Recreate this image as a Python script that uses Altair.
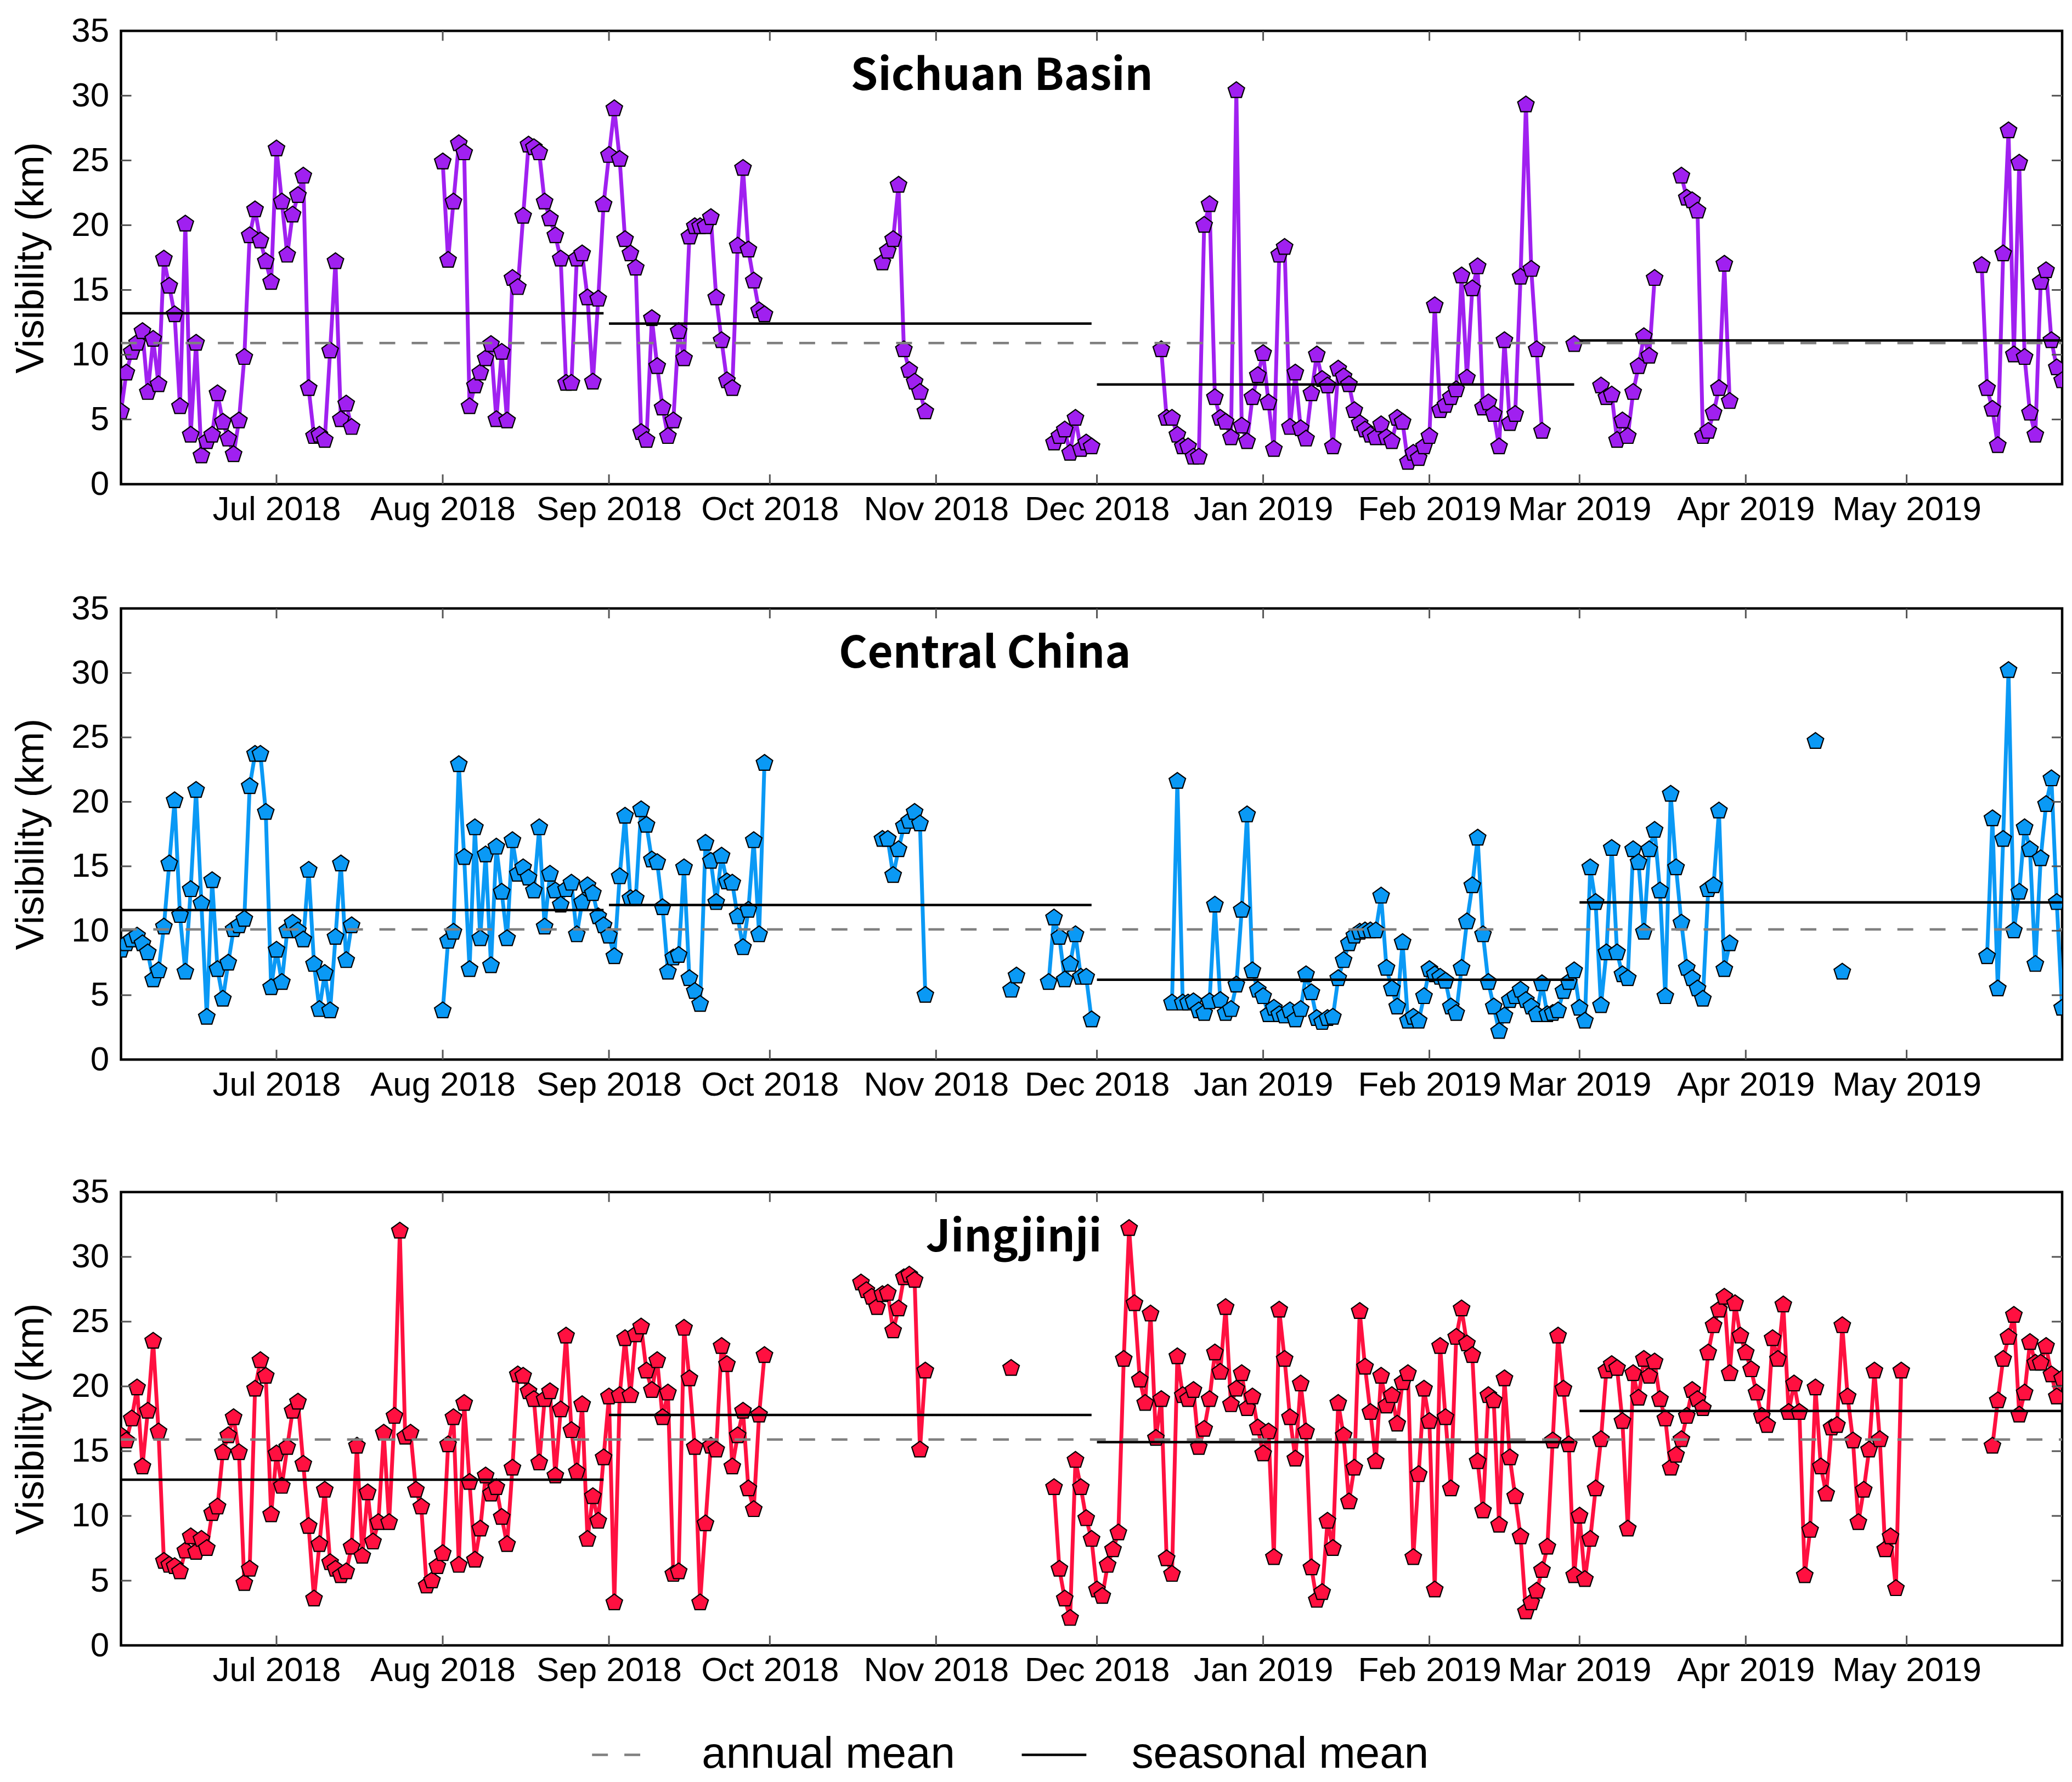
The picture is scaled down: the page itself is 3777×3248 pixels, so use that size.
import altair as alt
import pandas as pd

# ---------------- data ----------------
SICHUAN_RUNS = [
    ("2018-06-02", [5.6, 8.6, 10.2, 10.9, 11.8, 7.1, 11.2, 7.7, 17.4, 15.3, 13.1, 6.0, 20.1, 3.8, 10.9,
                    2.2, 3.3, 3.8, 7.0, 4.8, 3.5, 2.3, 4.9, 9.8, 19.2, 21.2, 18.8, 17.2, 15.6, 25.9,
                    21.8, 17.7, 20.8, 22.3, 23.8, 7.4, 3.7, 3.8, 3.4, 10.3, 17.2, 5.0, 6.2, 4.4]),
    ("2018-08-01", [24.9, 17.3, 21.8, 26.3, 25.6, 6.0, 7.6, 8.6, 9.7, 10.8, 5.0, 10.2, 4.9, 15.9, 15.2,
                    20.7, 26.2, 26.0, 25.6, 21.8, 20.5, 19.2, 17.4, 7.8, 7.8, 17.4, 17.8, 14.4, 7.9, 14.3,
                    21.6, 25.4, 29.0, 25.1, 18.9, 17.8, 16.7, 4.0, 3.4, 12.8, 9.1, 5.9, 3.7, 4.9, 11.8,
                    9.7, 19.1, 19.9, 19.9, 19.9, 20.6, 14.4, 11.1, 8.0, 7.4, 18.4, 24.4, 18.1, 15.7, 13.4,
                    13.1]),
    ("2018-10-22", [17.1, 18.0, 18.9, 23.1, 10.4, 8.8, 7.9, 7.1, 5.6]),
    ("2018-11-23", [3.2, 3.7, 4.2, 2.4, 5.1, 2.7, 3.2, 2.9]),
    ("2018-12-13", [10.4, 5.1, 5.1, 3.8, 2.9, 2.9, 2.1, 2.1, 20.0, 21.6, 6.7, 5.1, 4.8, 3.6, 30.4,
                    4.5, 3.3, 6.7, 8.4, 10.1, 6.3, 2.7, 17.7, 18.3, 4.4, 8.6, 4.3, 3.5, 7.0, 10.0,
                    8.1, 7.6, 2.9, 8.9, 8.3, 7.7, 5.7, 4.7, 4.2, 3.8, 3.6, 4.6, 3.6, 3.3, 5.1,
                    4.8, 1.7, 2.4, 2.0, 2.9, 3.7, 13.8, 5.7, 6.1, 6.7, 7.3, 16.1, 8.2, 15.1, 16.8,
                    5.9, 6.3, 5.4, 2.9, 11.1, 4.7, 5.4, 16.0, 29.3, 16.6, 10.4, 4.1]),
    ("2019-02-28", [10.8]),
    ("2019-03-05", [7.6, 6.7, 6.9, 3.4, 4.9, 3.7, 7.1, 9.1, 11.4, 9.9, 15.9]),
    ("2019-03-20", [23.8, 22.1, 21.9, 21.1, 3.7, 4.1, 5.5, 7.4, 17.0, 6.4]),
    ("2019-05-15", [16.9, 7.4, 5.8, 3.0, 17.8, 27.3, 10.0, 24.8, 9.8, 5.5, 3.8, 15.6, 16.5, 11.1, 9.0, 8.0]),
]
SICHUAN_SEASONAL = [13.2, 12.4, 7.7, 11.1]
SICHUAN_ANNUAL = 10.9

CENTRAL_RUNS = [
    ("2018-06-02", [8.5, 9.0, 9.3, 9.6, 9.0, 8.3, 6.2, 6.9, 10.3, 15.2, 20.1, 11.2, 6.8, 13.2, 20.9,
                    12.1, 3.3, 13.9, 7.0, 4.7, 7.5, 10.1, 10.4, 10.9, 21.2, 23.7, 23.7, 19.2, 5.6, 8.5,
                    6.0, 10.0, 10.6, 10.0, 9.3, 14.7, 7.4, 3.9, 6.7, 3.8, 9.5, 15.2, 7.7, 10.4]),
    ("2018-08-01", [3.8, 9.2, 9.9, 22.9, 15.7, 7.0, 18.0, 9.4, 15.9, 7.3, 16.5, 13.0, 9.4, 17.0, 14.4,
                    14.9, 14.1, 13.1, 18.0, 10.3, 14.4, 13.1, 12.0, 13.2, 13.7, 9.7, 12.2, 13.5, 12.9, 11.1,
                    10.4, 9.6, 8.0, 14.2, 18.9, 12.5, 12.5, 19.4, 18.2, 15.5, 15.3, 11.8, 6.8, 7.9, 8.1,
                    14.9, 6.3, 5.3, 4.3, 16.8, 15.4, 12.2, 15.8, 13.8, 13.7, 11.1, 8.7, 11.6, 17.0, 9.7,
                    23.0]),
    ("2018-10-22", [17.1, 17.1, 14.3, 16.3, 18.1, 18.5, 19.2, 18.3, 5.0]),
    ("2018-11-15", [5.4, 6.5]),
    ("2018-11-22", [6.0, 11.0, 9.5, 6.2, 7.4, 9.7, 6.4, 6.4, 3.1]),
    ("2018-12-15", [4.4, 21.6, 4.4, 4.4, 4.5, 3.8, 3.6, 4.5, 12.0, 4.6, 3.6, 3.9, 5.8, 11.6, 19.0,
                    6.9, 5.4, 4.9, 3.5, 4.0, 3.5, 3.4, 3.8, 3.1, 3.9, 6.6, 5.2, 3.2, 2.9, 3.2,
                    3.3, 6.3, 7.7, 9.0, 9.6, 9.9, 10.0, 10.0, 10.0, 12.7, 7.1, 5.5, 4.1, 9.1, 3.0,
                    3.3, 3.0, 4.9, 7.0, 6.6, 6.4, 6.1, 4.1, 3.6, 7.1, 10.7, 13.5, 17.2, 9.7, 6.0,
                    4.1, 2.2, 3.4, 4.6, 4.9, 5.4, 4.6, 4.1, 3.5, 5.9, 3.5, 3.6, 3.8, 5.3, 6.0,
                    6.9, 4.0, 3.0, 14.9, 12.2, 4.2, 8.3, 16.4, 8.3, 6.6, 6.3, 16.3, 15.3, 9.9, 16.3,
                    17.8, 13.1, 4.9, 20.6, 14.9, 10.6, 7.1, 6.3, 5.5, 4.7, 13.2, 13.5, 19.3, 7.0, 9.0]),
    ("2019-04-14", [24.7]),
    ("2019-04-19", [6.8]),
    ("2019-05-16", [8.0, 18.7, 5.5, 17.1, 30.2, 10.0, 13.0, 18.0, 16.3, 7.4, 15.6, 19.8, 21.8, 12.2, 4.0]),
]
CENTRAL_SEASONAL = [11.6, 12.0, 6.2, 12.2]
CENTRAL_ANNUAL = 10.1

JJJ_RUNS = [
    ("2018-06-02", [16.2, 15.8, 17.5, 19.9, 13.8, 18.1, 23.5, 16.5, 6.5, 6.2, 6.1, 5.7, 7.3, 8.4, 7.2,
                    8.2, 7.5, 10.2, 10.7, 14.9, 16.2, 17.6, 14.9, 4.8, 5.9, 19.8, 22.0, 20.8, 10.1, 14.8,
                    12.3, 15.3, 18.1, 18.8, 14.0, 9.2, 3.6, 7.8, 12.0, 6.4, 5.9, 5.4, 5.7, 7.6, 15.4,
                    6.9, 11.8, 8.0, 9.5, 16.4, 9.5, 17.7, 32.0, 16.1, 16.4, 12.0, 10.7, 4.6, 5.0, 6.1,
                    7.1, 15.5, 17.6, 6.2, 18.7, 12.6, 6.6, 9.0, 13.1, 11.7, 12.2, 9.9, 7.8, 13.7, 20.9,
                    20.8, 19.6, 19.0, 14.1, 19.0, 19.6, 13.1, 18.2, 23.9, 16.6, 13.4, 18.6, 8.2, 11.5, 9.6,
                    14.5, 19.2, 3.3, 19.3, 23.7, 19.3, 24.0, 24.6, 21.2, 19.7, 22.0, 17.6, 19.5, 5.5, 5.7,
                    24.5, 20.6, 15.3, 3.3, 9.4, 15.4, 15.1, 23.1, 21.7, 13.8, 16.2, 18.1, 12.1, 10.5, 17.8,
                    22.4]),
    ("2018-10-18", [28.0, 27.4, 26.9, 26.1, 27.1, 27.2, 24.3, 26.0, 28.4, 28.6, 28.2, 15.1, 21.2]),
    ("2018-11-15", [21.4]),
    ("2018-11-23", [12.2, 5.9, 3.6, 2.1, 14.3, 12.2, 9.8, 8.2, 4.3, 3.8, 6.2, 7.4, 8.7, 22.1, 32.2,
                    26.4, 20.5, 18.7, 25.6, 16.0, 19.0, 6.7, 5.5, 22.3, 19.3, 19.0, 19.7, 15.3, 16.7, 19.0,
                    22.6, 21.1, 26.1, 18.6, 19.8, 21.0, 18.3, 19.2, 16.8, 14.8, 16.5, 6.8, 25.9, 22.1, 17.6,
                    14.4, 20.2, 16.5, 6.0, 3.5, 4.1, 9.6, 7.5, 18.7, 16.2, 11.1, 13.7, 25.8, 21.5, 18.0,
                    14.2, 20.8, 18.5, 19.3, 17.1, 20.3, 21.0, 6.8, 13.2, 19.8, 17.3, 4.3, 23.1, 17.6, 12.1,
                    23.8, 26.0, 23.3, 22.4, 14.2, 10.4, 19.3, 18.9, 9.3, 20.6, 14.5, 11.5, 8.4, 2.6, 3.3,
                    4.2, 5.8, 7.6, 15.8, 23.9, 19.8, 15.5, 5.4, 10.0, 5.1, 8.2, 12.1, 15.9, 21.2, 21.7,
                    21.4, 17.3, 9.0, 21.0, 19.1, 22.1, 20.8, 21.9, 19.0, 17.5, 13.7, 14.7, 15.9, 17.7, 19.7,
                    19.0, 18.3, 22.6, 24.7, 25.9, 26.9, 21.0, 26.4, 23.9, 22.6, 21.3, 19.5, 17.7, 17.0, 23.7,
                    22.1, 26.3, 18.0, 20.2, 18.0, 5.4, 8.9, 19.9, 13.8, 11.7, 16.8, 17.0, 24.7, 19.2, 15.8,
                    9.5, 12.0, 15.1, 21.2, 15.9, 7.4, 8.4, 4.4, 21.2]),
    ("2019-05-17", [15.4, 18.9, 22.1, 23.8, 25.5, 17.8, 19.5, 23.4, 21.8, 21.8, 23.1, 20.9, 19.2, 20.6]),
]
JJJ_SEASONAL = [12.8, 17.8, 15.7, 18.1]
JJJ_ANNUAL = 15.9

REGIONS = ["Sichuan Basin", "Central China", "Jingjinji"]
COLORS = ["#A020F0", "#0A99F5", "#FF1040"]
SEASON_START = ["2018-06-02", "2018-09-01", "2018-12-01", "2019-03-01"]
SEASON_END = ["2018-08-31", "2018-11-30", "2019-02-28", "2019-05-30"]
MONTH_TICKS = ["2018-07-01", "2018-08-01", "2018-09-01", "2018-10-01", "2018-11-01", "2018-12-01",
               "2019-01-01", "2019-02-01", "2019-03-01", "2019-04-01", "2019-05-01"]
Y_LABELS = [0, 5, 10, 15, 20, 25, 30, 35]
Y_INNER_TICKS = [5, 10, 15, 20, 25, 30]
LEGEND_KINDS = ["annual mean", "seasonal mean"]

# ---------------- styling ----------------
FONT = "Liberation Sans"
TITLE_FONT = "Noto Sans CJK SC"
PLOT_W = 3546
HEIGHTS = [828, 824, 828]
TITLE_X = [1609, 1578, 1631]
TOP_EXTRA = [0, 0, 46]   # extra room above a panel (keeps the uneven gaps of the original)
PENTAGON = "M0,-1L0.951,-0.309L0.588,0.809L-0.588,0.809L-0.951,-0.309Z"


def dt(s):
    y, m, d = (int(p) for p in s.split("-"))
    return alt.DateTime(year=y, month=m, date=d)


X_SCALE = alt.Scale(domain=[dt("2018-06-02"), dt("2019-05-30")])
Y_SCALE = alt.Scale(domain=[0, 35], nice=False, zero=False)

X_AXIS = alt.Axis(values=[dt(s) for s in MONTH_TICKS], format="%b %Y", labelFont=FONT,
                  labelFontSize=62, labelColor="black", ticks=False, domain=False, grid=False,
                  labelPadding=16, labelOverlap=False, labelFlush=False, labelLimit=0, title=None)
Y_AXIS = alt.Axis(values=Y_LABELS, labelFont=FONT, labelFontSize=62, labelColor="black",
                  ticks=False, domain=False, grid=False, labelPadding=22, labelLimit=0,
                  title="Visibility (km)", titleFont=FONT, titleFontSize=72,
                  titleFontWeight="normal", titleColor="black", titlePadding=36)


def X(field="date"):
    return alt.X(f"{field}:T", scale=X_SCALE, axis=X_AXIS)


def Y(field="v"):
    return alt.Y(f"{field}:Q", scale=Y_SCALE, axis=Y_AXIS)


def runs_df(runs):
    rows = []
    for seg, (start, vals) in enumerate(runs):
        for d, v in zip(pd.date_range(start, periods=len(vals), freq="D"), vals):
            rows.append({"date": d, "v": v, "seg": seg})
    return pd.DataFrame(rows)


def means_df(seasonal, annual):
    rows = [{"date": pd.Timestamp(SEASON_START[0]), "date2": pd.Timestamp(SEASON_END[-1]),
             "v": annual, "kind": LEGEND_KINDS[0]}]
    for s, e, v in zip(SEASON_START, SEASON_END, seasonal):
        rows.append({"date": pd.Timestamp(s), "date2": pd.Timestamp(e), "v": v, "kind": LEGEND_KINDS[1]})
    return pd.DataFrame(rows)


def panel(i, runs, seasonal, annual, with_legend):
    H = HEIGHTS[i]
    color = COLORS[i]
    df = runs_df(runs)
    lines = alt.Chart(df).mark_line(color=color, strokeWidth=7, clip=True).encode(
        x=X(), y=Y(), detail="seg:N")
    points = alt.Chart(df).mark_point(shape=PENTAGON, filled=True, size=1000, fill=color,
                                      fillOpacity=1, stroke="black", strokeWidth=2.2,
                                      strokeOpacity=1, clip=True).encode(x=X(), y=Y())
    mdf = means_df(seasonal, annual)
    if with_legend:
        leg = alt.Legend(title=None, orient="none", legendX=858, legendY=966,
                         direction="horizontal", symbolType="stroke", symbolSize=13924,
                         symbolStrokeWidth=4.5, labelFont=FONT, labelFontSize=80,
                         labelColor="black", labelOffset=80, columnPadding=112,
                         labelLimit=0, symbolLimit=2)
        means = alt.Chart(mdf).mark_rule(strokeWidth=4.5).encode(
            x=X(), x2="date2:T", y=Y(),
            color=alt.Color("kind:N", scale=alt.Scale(domain=LEGEND_KINDS, range=["#808080", "#000000"]),
                            legend=leg),
            strokeDash=alt.StrokeDash("kind:N", scale=alt.Scale(domain=LEGEND_KINDS, range=[[29, 30], [1, 0]]),
                                      legend=leg))
        mean_layers = [means]
    else:
        ann = alt.Chart(mdf[mdf.kind == LEGEND_KINDS[0]]).mark_rule(
            strokeWidth=4.5, color="#808080", strokeDash=[29, 30]).encode(x=X(), x2="date2:T", y=Y())
        sea = alt.Chart(mdf[mdf.kind == LEGEND_KINDS[1]]).mark_rule(
            strokeWidth=4.5, color="#000000").encode(x=X(), x2="date2:T", y=Y())
        mean_layers = [ann, sea]

    tdf = pd.DataFrame({"date": pd.to_datetime(MONTH_TICKS)})
    ydf = pd.DataFrame({"v": Y_INNER_TICKS})
    tick_style = dict(color="#555555", strokeWidth=3)
    xt_bot = alt.Chart(tdf).mark_rule(**tick_style).encode(x=X(), y=alt.value(H), y2=alt.value(H - 18))
    xt_top = alt.Chart(tdf).mark_rule(**tick_style).encode(x=X(), y=alt.value(0), y2=alt.value(18))
    yt_l = alt.Chart(ydf).mark_rule(**tick_style).encode(y=Y(), x=alt.value(0), x2=alt.value(19))
    yt_r = alt.Chart(ydf).mark_rule(**tick_style).encode(y=Y(), x=alt.value(PLOT_W - 19), x2=alt.value(PLOT_W))
    title = alt.Chart(pd.DataFrame({"label": [REGIONS[i]]})).mark_text(
        font=TITLE_FONT, fontWeight="bold", fontSize=80, align="center", baseline="alphabetic",
        color="black").encode(text="label:N", x=alt.value(TITLE_X[i]), y=alt.value(108))
    layers = [lines, points, *mean_layers, xt_bot, xt_top, yt_l, yt_r, title]
    if TOP_EXTRA[i]:
        spacer = alt.Chart(ydf.head(1)).mark_rule(strokeWidth=1, opacity=0).encode(
            x=alt.value(PLOT_W / 2), y=alt.value(-TOP_EXTRA[i]), y2=alt.value(0))
        layers.append(spacer)
    return alt.layer(*layers).properties(width=PLOT_W, height=H)


p1 = panel(0, SICHUAN_RUNS, SICHUAN_SEASONAL, SICHUAN_ANNUAL, False)
p2 = panel(1, CENTRAL_RUNS, CENTRAL_SEASONAL, CENTRAL_ANNUAL, False)
p3 = panel(2, JJJ_RUNS, JJJ_SEASONAL, JJJ_ANNUAL, True)

chart = alt.vconcat(p1, p2, p3, spacing=113).resolve_scale(
    color="independent", strokeDash="independent").properties(
    padding={"left": 10, "top": 11, "right": 5, "bottom": 5}
).configure(background="white", font=FONT).configure_view(stroke="black", strokeWidth=4.5)

chart.save("out.html", embed_options={"renderer": "svg", "actions": False})
